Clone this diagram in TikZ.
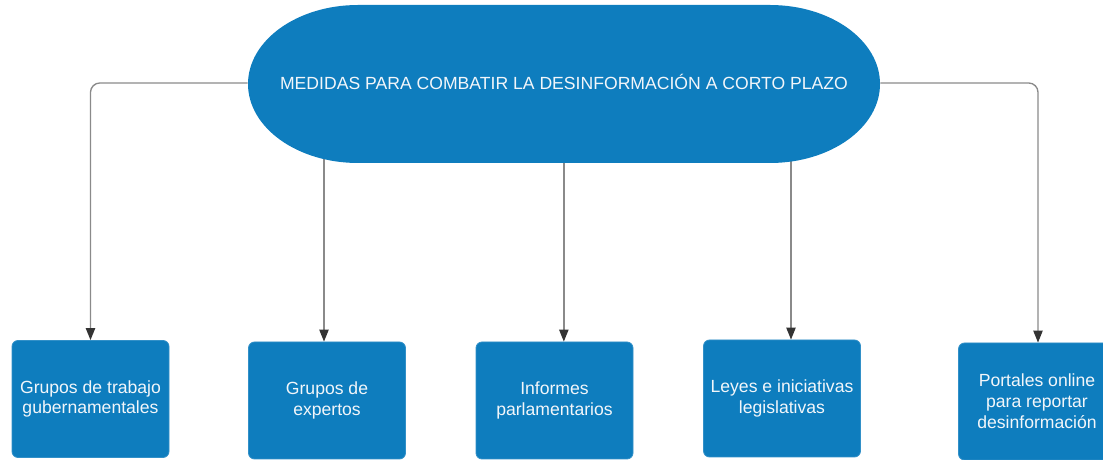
\documentclass[tikz,border=0pt]{standalone}
\usepackage{fontspec}
\setmainfont{Liberation Sans}
\usetikzlibrary{arrows.meta,backgrounds}
\definecolor{mblue}{HTML}{0E7DBE}
\definecolor{mline}{HTML}{8A8A8A}
\definecolor{mhead}{HTML}{333333}
\definecolor{mtext}{HTML}{F2F6FA}
\begin{document}
\begin{tikzpicture}[x=0.75pt,y=0.75pt,
  boxnode/.style={rectangle, rounded corners=4.5pt, fill=mblue, draw=mblue!85!white, line width=0.6pt,
     minimum width=157*0.75pt, minimum height=117*0.75pt, align=center, text=mtext,
     font=\fontsize{13.2}{15.6}\selectfont, inner sep=2pt},
  conn/.style={draw=mline, line width=1pt, rounded corners=7pt,
     -{Triangle[length=9pt,width=7pt,color=mhead,fill=mhead]}},
  titlenode/.style={rectangle, minimum width=632*0.75pt, minimum height=158*0.75pt,
     text=mtext, font=\fontsize{13.2}{15}\selectfont, inner sep=0pt}]
\useasboundingbox (0,0) rectangle (1103,460);
% title shape
\fill[mblue] (358,455) -- (770,455) arc[start angle=90,end angle=-90,x radius=110,y radius=79]
  -- (358,297) arc[start angle=270,end angle=90,x radius=110,y radius=79] -- cycle;
\node[titlenode] (title) at (564,377) {\raisebox{1.5pt}{MEDIDAS PARA COMBATIR LA DESINFORMACIÓN A CORTO PLAZO}};
% boxes
\node[boxnode] (b1) at (90.5,61) {Grupos de trabajo\\gubernamentales};
\node[boxnode] (b2) at (327,59.5) {Grupos de\\expertos};
\node[boxnode] (b3) at (554.5,59.5) {Informes\\parlamentarios};
\node[boxnode] (b4) at (782,61.5) {Leyes e iniciativas\\legislativas};
\node[boxnode] (b5) at (1037,58.5) {Portales online\\para reportar\\desinformación};
\coordinate (t2) at ([xshift=-2.25pt]b2.north);
\coordinate (t3) at ([xshift=7pt]b3.north);
\coordinate (t4) at ([xshift=6.75pt]b4.north);
\coordinate (t5) at ([xshift=0.75pt]b5.north);
\begin{scope}[on background layer]
\draw[conn] (title.west) -| (b1.north);
\draw[conn] (title.east) -| (t5);
\draw[conn] (title.center -| t2) -- (t2);
\draw[conn] (title.center -| t3) -- (t3);
\draw[conn] (title.center -| t4) -- (t4);
\end{scope}
\end{tikzpicture}
\end{document}
